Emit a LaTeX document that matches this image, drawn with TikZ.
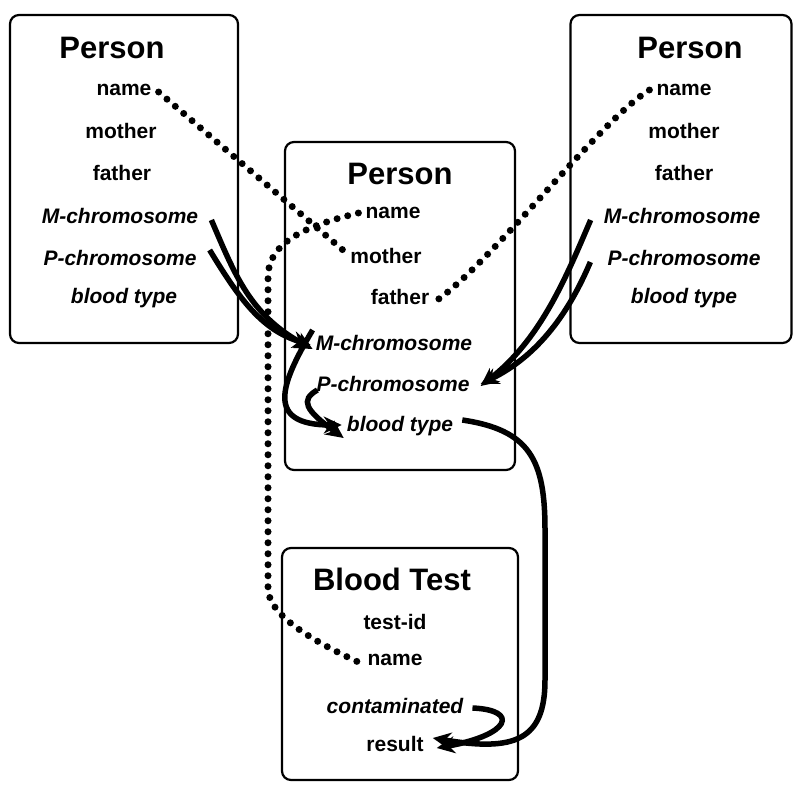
\documentclass[tikz,border=0pt]{standalone}
\usepackage{fontspec}
\setmainfont{Liberation Sans}
\usetikzlibrary{arrows.meta}
\begin{document}
\begin{tikzpicture}[x=1pt,y=-1pt,
  box/.style={draw,line width=2.2pt,rounded corners=9pt,inner sep=0pt},
  head/.style={font=\fontsize{31}{33}\selectfont\bfseries,inner sep=1pt},
  item/.style={font=\fontsize{21}{23}\selectfont\bfseries,inner sep=1pt},
  itm/.style={font=\fontsize{21}{23}\selectfont\bfseries\itshape,inner sep=1pt},
  dots/.style={line width=7pt,line cap=round,dash pattern=on 0pt off 11pt},
  arr/.style={line width=5.5pt,-{Stealth[length=18pt,width=17pt]}}]
\useasboundingbox (0,0) rectangle (795,785);
% boxes
\node[box,minimum width=228pt,minimum height=328pt] (Lbox) at (124,179) {};
\node[box,minimum width=230pt,minimum height=328pt] (Mbox) at (400,306) {};
\node[box,minimum width=221pt,minimum height=328pt] (Rbox) at (681,179) {};
\node[box,minimum width=236pt,minimum height=232pt] (Bbox) at (400,664) {};
% left person
\node[head] (Lhead) at (112,48) {Person};
\node[item] (Lname) at (124,90) {name};
\node[item] (Lmother) at (121,131) {mother};
\node[item] (Lfather) at (122,173) {father};
\node[itm] (LM) at (120,216) {M-chromosome};
\node[itm] (LP) at (120,258) {P-chromosome};
\node[itm] (Lblood) at (124,298) {blood type};
% middle person
\node[head] (Mhead) at (400,174) {Person};
\node[item] (Mname) at (393,213) {name};
\node[item] (Mmother) at (386,256) {mother};
\node[item] (Mfather) at (400,297) {father};
\node[itm] (MM) at (394,343) {M-chromosome};
\node[itm] (MP) at (393,384) {P-chromosome};
\node[itm] (Mblood) at (400,426) {blood type};
% right person
\node[head] (Rhead) at (690,48) {Person};
\node[item] (Rname) at (684,90) {name};
\node[item] (Rmother) at (684,131) {mother};
\node[item] (Rfather) at (684,173) {father};
\node[itm] (RM) at (682,216) {M-chromosome};
\node[itm] (RP) at (684,258) {P-chromosome};
\node[itm] (Rblood) at (684,298) {blood type};
% blood test
\node[head] (Bhead) at (392,579) {Blood Test};
\node[item] (Bid) at (395,622) {test-id};
\node[item] (Bname) at (395,660) {name};
\node[itm] (Bcont) at (395,706) {contaminated};
\node[item] (Bres) at (395,744) {result};
% dotted references
\draw[dots] ([xshift=6pt,yshift=-2pt]Lname.east) -- ([xshift=-4pt,yshift=4pt]Mmother.west);
\draw[dots] ([xshift=-6pt]Rname.west) .. controls (600,120) and (490,265) .. ([xshift=4pt,yshift=-5pt]Mfather.east);
\draw[dots] ([xshift=-6pt]Mname.west) .. controls (310,225) and (270,240) .. (268,275)
  -- (268,590) .. controls (270,615) and (310,640) .. ([xshift=-6pt,yshift=-3pt]Bname.west);
% chromosome inheritance
\draw[arr] ([xshift=12pt,yshift=-4pt]LM.east) .. controls (235,275) and (250,315) .. ([xshift=-2pt,yshift=-6pt]MM.west);
\draw[arr] ([xshift=12pt,yshift=8pt]LP.east) .. controls (240,300) and (262,330) .. ([xshift=-4pt,yshift=-2pt]MM.west);
\draw[arr] ([xshift=-12pt,yshift=-4pt]RM.west) .. controls (565,280) and (540,340) .. ([xshift=10pt,yshift=-2pt]MP.east);
\draw[arr] ([xshift=-16pt,yshift=-4pt]RP.west) .. controls (570,310) and (540,355) .. ([xshift=10pt,yshift=0pt]MP.east);
\draw[arr] ([xshift=-2pt,yshift=13pt]MM.west) .. controls (280,385) and (265,425) .. ([xshift=-4pt,yshift=1pt]Mblood.west);
\draw[arr] ([xshift=2pt,yshift=-6pt]MP.west) .. controls (300,400) and (305,410) .. ([xshift=-2pt,yshift=-12pt]Mblood.west);
% blood type to result
\draw[arr] ([xshift=8pt,yshift=6pt]Mblood.east) .. controls (530,430) and (545,460) .. (545,530)
  -- (545,680) .. controls (545,740) and (515,752) .. ([xshift=8pt,yshift=6pt]Bres.east);
\draw[arr] ([xshift=8pt,yshift=-2pt]Bcont.east) .. controls (520,710) and (510,735) .. ([xshift=12pt,yshift=-4pt]Bres.east);
\end{tikzpicture}
\end{document}
